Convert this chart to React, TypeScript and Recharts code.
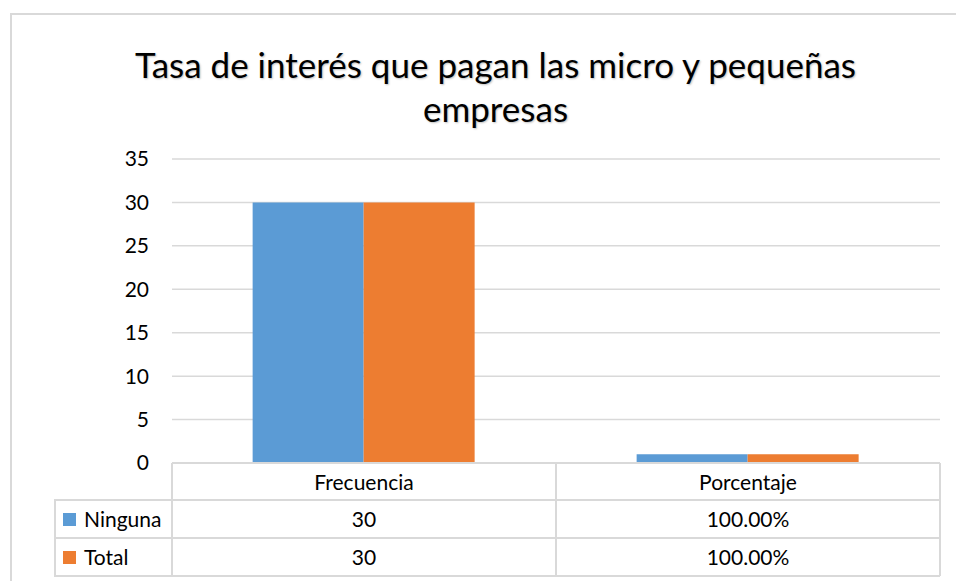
import React from 'react';
import { BarChart, Bar, XAxis, YAxis, CartesianGrid } from 'recharts';

const categories = ['Frecuencia', 'Porcentaje'];
const ninguna = [30, 1];
const total = [30, 1];
const ningunaLabels = ['30', '100.00%'];
const totalLabels = ['30', '100.00%'];
const yTicks = [0, 5, 10, 15, 20, 25, 30, 35];

const data = categories.map((name, i) => ({ name, ninguna: ninguna[i], total: total[i] }));

const FONT = 'Lato, "Open Sans", sans-serif';
const GRID = '#d9d9d9';
const BLUE = '#5B9BD5';
const ORANGE = '#ED7D31';

const rows = [
  { label: 'Ninguna', color: BLUE, values: ningunaLabels },
  { label: 'Total', color: ORANGE, values: totalLabels },
];

const CategoryTick = (props: any) => {
  const { x, y, payload } = props;
  return (
    <text x={x} y={y + 19} textAnchor="middle" fontSize={21} fill="#000" fontFamily={FONT}>
      {payload.value}
    </text>
  );
};

export default function App() {
  const plotLeft = 172;
  const plotRight = 940;
  const colW = (plotRight - plotLeft) / categories.length;
  return (
    <div style={{ position: 'absolute', left: 0, top: 0, width: 956, height: 581, background: '#fff', overflow: 'hidden', fontFamily: FONT }}>
      <div style={{ position: 'absolute', left: 10, top: 13, width: 960, height: 600, border: '2px solid #d9d9d9', boxSizing: 'border-box' }} />
      <div style={{ position: 'absolute', left: 0, top: 42, width: 991, textAlign: 'center', fontSize: 35, lineHeight: '44px', color: '#000', textShadow: '1px 1px 2px rgba(0,0,0,0.25)' }}>
        Tasa de interés que pagan las micro y pequeñas<br />empresas
      </div>
      <div style={{ position: 'absolute', left: 0, top: 0 }}>
        <BarChart
          width={956}
          height={581}
          data={data}
          margin={{ top: 159, right: 16, bottom: 81, left: 112 }}
          barCategoryGap="21%"
          barGap={0}
        >
          <CartesianGrid horizontal vertical={false} stroke={GRID} strokeWidth={1.5} />
          <XAxis
            dataKey="name"
            height={37}
            axisLine={{ stroke: GRID, strokeWidth: 2 }}
            tickLine={false}
            tick={<CategoryTick />}
            interval={0}
          />
          <YAxis
            width={60}
            domain={[0, 35]}
            ticks={yTicks}
            axisLine={false}
            tickLine={false}
            tickMargin={17}
            tick={{ fontSize: 21, fill: '#000', fontFamily: FONT }}
          />
          <Bar dataKey="ninguna" fill={BLUE} isAnimationActive={false} />
          <Bar dataKey="total" fill={ORANGE} isAnimationActive={false} />
        </BarChart>
      </div>
      {/* data table */}
      <div style={{ position: 'absolute', left: plotLeft - 1, top: 463, width: 0, height: 113, borderLeft: `2px solid ${GRID}` }} />
      {categories.map((c, i) => (
        <div key={c} style={{ position: 'absolute', left: plotLeft + colW * (i + 1) - 1, top: 463, width: 0, height: 113, borderLeft: `2px solid ${GRID}` }} />
      ))}
      <div style={{ position: 'absolute', left: 54, top: 500, width: 0, height: 76, borderLeft: `2px solid ${GRID}` }} />
      {[500, 538, 576].map((y) => (
        <div key={y} style={{ position: 'absolute', left: 54, top: y - 1, width: plotRight - 54, height: 0, borderTop: `2px solid ${GRID}` }} />
      ))}
      {rows.map((r, ri) => {
        const top = 500 + ri * 38;
        return (
          <React.Fragment key={r.label}>
            <div style={{ position: 'absolute', left: 63, top: top + 13, width: 13, height: 13, background: r.color }} />
            <div style={{ position: 'absolute', left: 84, top, height: 38, lineHeight: '38px', fontSize: 21, color: '#000' }}>{r.label}</div>
            {r.values.map((v, ci) => (
              <div key={ci} style={{ position: 'absolute', left: plotLeft + colW * ci, top, width: colW, height: 38, lineHeight: '38px', fontSize: 21, textAlign: 'center', color: '#000' }}>{v}</div>
            ))}
          </React.Fragment>
        );
      })}
    </div>
  );
}
